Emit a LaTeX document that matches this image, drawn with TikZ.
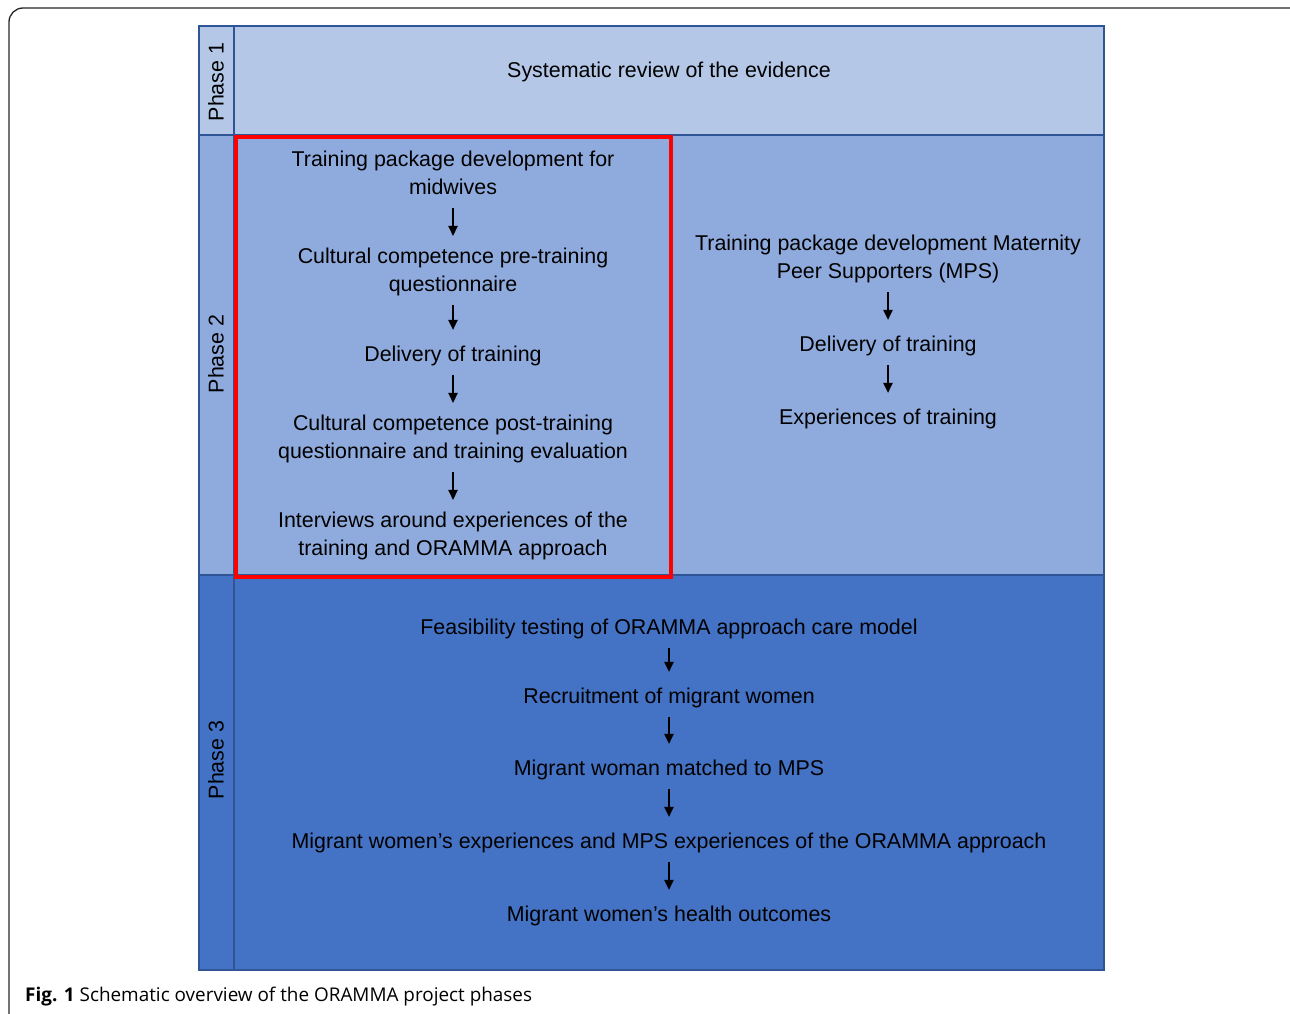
\documentclass[tikz,border=0pt]{standalone}
\usepackage{fontspec}
\setmainfont{Liberation Sans}
\newfontfamily\capfont{Open Sans}
\usetikzlibrary{arrows.meta}
\definecolor{pone}{HTML}{B4C7E7}
\definecolor{ptwo}{HTML}{8FAADC}
\definecolor{pthree}{HTML}{4472C4}
\definecolor{pborder}{HTML}{2F5597}
\definecolor{hilite}{HTML}{FF0000}
\tikzset{
  txt/.style={align=center, inner sep=0pt, font=\fontsize{21.4}{28}\selectfont,
    execute at begin node=\strut, execute at end node=\strut},
  phlabel/.style={rotate=90, inner sep=0pt, font=\fontsize{21.4}{28}\selectfont},
  band/.style={draw=pborder, line width=1.6pt},
  flow/.style={-{Triangle[width=9.5pt,length=10pt]}, line width=1.2pt, shorten <=5pt, shorten >=12pt},
}
\begin{document}
\begin{tikzpicture}[x=1pt,y=-1pt]
\useasboundingbox (0,0) rectangle (1290,1014);
% outer frame
\draw[line width=1.3pt, color=black!85, rounded corners=14pt] (9,8) rectangle (1304,1030);
% bands
\fill[pone] (199,26) rectangle (1104,135);
\fill[ptwo] (199,135) rectangle (1104,575);
\fill[pthree] (199,575) rectangle (1104,970);
\draw[band] (199,26) rectangle (234,135);
\draw[band] (234,26) rectangle (1104,135);
\draw[band] (199,135) rectangle (234,575);
\draw[band] (234,135) rectangle (1104,575);
\draw[band] (199,575) rectangle (234,970);
\draw[band] (234,575) rectangle (1104,970);
% red highlight
\draw[hilite, line width=4pt] (236,137) rectangle (671,577);
% phase labels
\node[phlabel] (ph1) at (216,82) {Phase 1};
\node[phlabel] (ph2) at (216,354) {Phase 2};
\node[phlabel] (ph3) at (216,760) {Phase 3};
% phase 1
\node[txt] (sr) at (669,72) {Systematic review of the evidence};
% phase 2 left
\node[txt] (l1) at (453,177) {Training package development for\\midwives};
\node[txt] (l2) at (453,274) {Cultural competence pre-training\\questionnaire};
\node[txt] (l3) at (453,356) {Delivery of training};
\node[txt] (l4) at (453,441) {Cultural competence post-training\\questionnaire and training evaluation};
\node[txt] (l5) at (453,538) {Interviews around experiences of the\\training and ORAMMA approach};
\draw[flow] (l1) -- (l2);
\draw[flow] (l2) -- (l3);
\draw[flow] (l3) -- (l4);
\draw[flow] (l4) -- (l5);
% phase 2 right
\node[txt] (r1) at (888,261) {Training package development Maternity\\Peer Supporters (MPS)};
\node[txt] (r2) at (888,346) {Delivery of training};
\node[txt] (r3) at (888,419) {Experiences of training};
\draw[flow] (r1) -- (r2);
\draw[flow] (r2) -- (r3);
% phase 3
\node[txt] (t1) at (669,629) {Feasibility testing of ORAMMA approach care model};
\node[txt] (t2) at (669,698) {Recruitment of migrant women};
\node[txt] (t3) at (669,770) {Migrant woman matched to MPS};
\node[txt] (t4) at (669,843) {Migrant women’s experiences and MPS experiences of the ORAMMA approach};
\node[txt] (t5) at (669,916) {Migrant women’s health outcomes};
\draw[flow] (t1) -- (t2);
\draw[flow] (t2) -- (t3);
\draw[flow] (t3) -- (t4);
\draw[flow] (t4) -- (t5);
% caption
\node[anchor=west, inner sep=0pt, font=\capfont\fontsize{18.9}{22}\selectfont] (cap) at (25,997) {\textbf{Fig. 1} Schematic overview of the ORAMMA project phases};
\end{tikzpicture}
\end{document}
